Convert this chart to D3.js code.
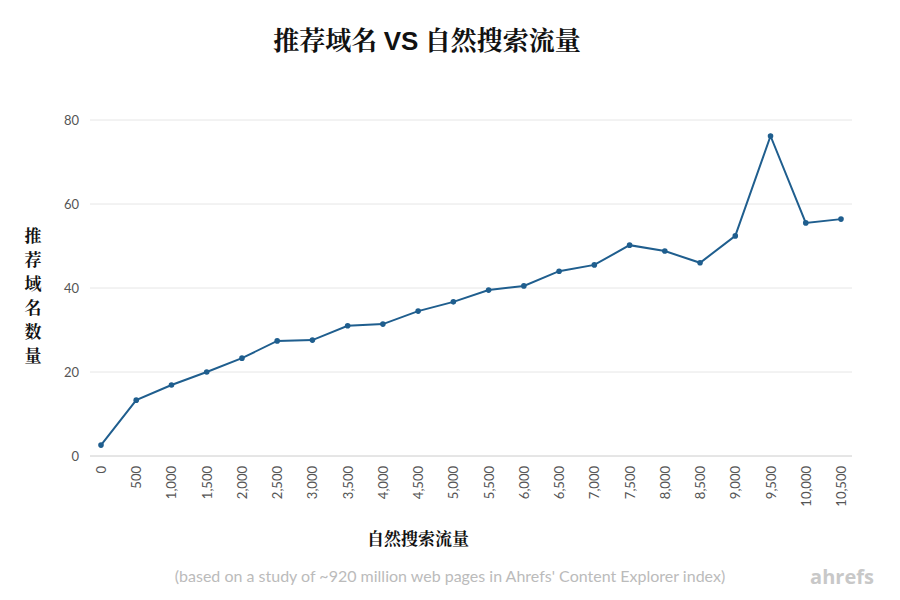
<!DOCTYPE html><html><head><meta charset="utf-8"><script src="https://cdn.jsdelivr.net/npm/d3@7"></script>
<style>body{margin:0;background:#fff}</style></head><body><svg id="c" width="900" height="600"></svg>
<script>
const xValues=[0,500,1000,1500,2000,2500,3000,3500,4000,4500,5000,5500,6000,6500,7000,7500,8000,8500,9000,9500,10000,10500];
const yValues=[2.6,13.3,16.9,20,23.3,27.4,27.6,31,31.4,34.5,36.7,39.5,40.5,44,45.5,50.2,48.8,46,52.4,76.2,55.5,56.4];
const yTicks=[0,20,40,60,80];
const svg=d3.select("#c");
const x=d3.scaleLinear().domain([0,10500]).range([101,841]);
const y=d3.scaleLinear().domain([0,80]).range([456,120]);
const serif="'Noto Serif CJK SC','Noto Sans CJK SC',serif";
svg.append("g").selectAll("line").data(yTicks).join("line")
 .attr("x1",90).attr("x2",852).attr("y1",d=>y(d)).attr("y2",d=>y(d))
 .attr("stroke",d=>d===0?"#ccc":"#e6e6e6");
svg.append("g").selectAll("text").data(yTicks).join("text")
 .attr("x",79).attr("y",d=>y(d)+5).attr("text-anchor","end")
 .attr("font-family","Lato").attr("font-size",13).attr("fill","#555").text(d=>d);
svg.append("g").selectAll("text").data(xValues).join("text")
 .attr("transform",d=>`translate(${x(d)+5},466) rotate(-90)`).attr("text-anchor","end")
 .attr("font-family","Lato").attr("font-size",13).attr("fill","#555").text(d=>d3.format(",")(d));
svg.append("path").datum(xValues.map((v,i)=>[v,yValues[i]]))
 .attr("d",d3.line().x(d=>x(d[0])).y(d=>y(d[1]))).attr("fill","none").attr("stroke","#1f5e8e").attr("stroke-width",2);
svg.append("g").selectAll("circle").data(xValues).join("circle")
 .attr("cx",d=>x(d)).attr("cy",(d,i)=>y(yValues[i])).attr("r",2.8).attr("fill","#1f5e8e");
svg.append("text").attr("x",427).attr("y",50).attr("text-anchor","middle").attr("font-family",serif)
 .attr("font-weight","bold").attr("font-size",26).attr("fill","#111")
 .html('推荐域名 <tspan font-family="Liberation Sans">VS</tspan> 自然搜索流量');
svg.append("g").selectAll("text").data("推荐域名数量".split("")).join("text")
 .attr("x",33).attr("y",(d,i)=>242+i*24).attr("text-anchor","middle").attr("font-family",serif)
 .attr("font-weight","bold").attr("font-size",17).attr("fill","#111").text(d=>d);
svg.append("text").attr("x",418).attr("y",545).attr("text-anchor","middle").attr("font-family",serif)
 .attr("font-weight","bold").attr("font-size",17).attr("fill","#111").text("自然搜索流量");
svg.append("text").attr("x",450).attr("y",582).attr("text-anchor","middle").attr("font-family","Lato")
 .attr("font-size",16).attr("fill","#bbb").text("(based on a study of ~920 million web pages in Ahrefs' Content Explorer index)");
svg.append("text").attr("x",842).attr("y",584).attr("text-anchor","middle").attr("font-family","'Open Sans'")
 .attr("font-weight","bold").attr("font-size",20).attr("fill","#c8c8c8").text("ahrefs");
</script></body></html>
